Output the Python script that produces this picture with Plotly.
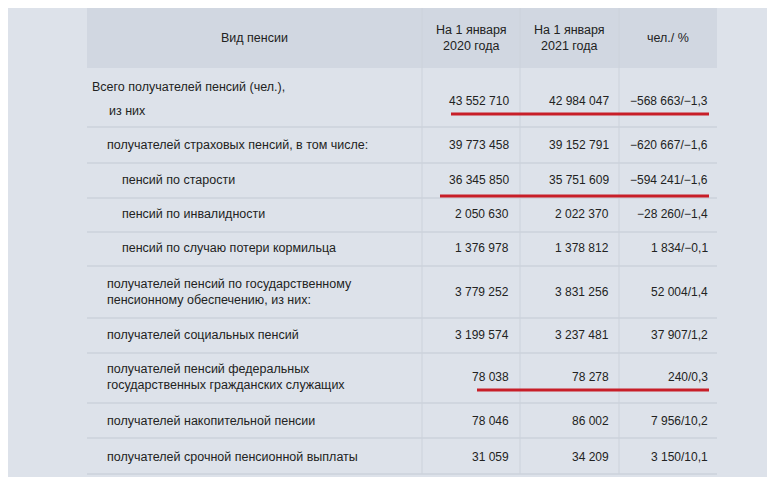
import plotly.graph_objects as go

headers = ["Вид пенсии", "На 1 января<br>2020 года", "На 1 января<br>2021 года", "чел./ %"]
labels = [
    "Всего получателей пенсий (чел.),",
    "получателей страховых пенсий, в том числе:",
    "пенсий по старости",
    "пенсий по инвалидности",
    "пенсий по случаю потери кормильца",
    "получателей пенсий по государственному<br>пенсионному обеспечению, из них:",
    "получателей социальных пенсий",
    "получателей пенсий федеральных<br>государственных гражданских служащих",
    "получателей накопительной пенсии",
    "получателей срочной пенсионной выплаты",
]
indent = [0, 1, 2, 2, 2, 1, 1, 1, 1, 1]
v2020 = ["43 552 710", "39 773 458", "36 345 850", "2 050 630", "1 376 978",
         "3 779 252", "3 199 574", "78 038", "78 046", "31 059"]
v2021 = ["42 984 047", "39 152 791", "35 751 609", "2 022 370", "1 378 812",
         "3 831 256", "3 237 481", "78 278", "86 002", "34 209"]
change = ["−568 663/−1,3", "−620 667/−1,6", "−594 241/−1,6", "−28 260/−1,4", "1 834/−0,1",
          "52 004/1,4", "37 907/1,2", "240/0,3", "7 956/10,2", "3 150/10,1"]
highlight = [0, 2, 7]

# layout geometry (pixels)
row_bounds = [68, 127, 163, 198, 232, 266, 318, 353, 403, 438, 474]
col_bounds = [87, 422, 520, 619, 717]
val_y = [101, 145, 180, 214, 248, 292, 335, 377, 421, 457]
ul_start = {0: 451, 2: 440, 7: 477}
ul_y = {0: 114, 2: 196, 7: 390}

fig = go.Figure()
shapes = []
shapes.append(dict(type="rect", x0=0, x1=771, y0=0, y1=477, fillcolor="#dde2ea", line_width=0, layer="below"))
shapes.append(dict(type="rect", x0=771, x1=775, y0=0, y1=477, fillcolor="#8e9196", line_width=0, layer="below"))
shapes.append(dict(type="rect", x0=col_bounds[0], x1=col_bounds[-1], y0=8, y1=68, fillcolor="#d1d7e1", line_width=0, layer="below"))
for yb in row_bounds[1:]:
    shapes.append(dict(type="line", x0=col_bounds[0], x1=col_bounds[-1], y0=yb, y1=yb, line=dict(color="#c3cad4", width=1.2)))
for xb in col_bounds[1:-1]:
    shapes.append(dict(type="line", x0=xb, x1=xb, y0=8, y1=row_bounds[-1], line=dict(color="#ccd2db", width=1)))
for i in highlight:
    shapes.append(dict(type="line", x0=ul_start[i], x1=709, y0=ul_y[i], y1=ul_y[i], line=dict(color="#c81e28", width=3)))

font = dict(family="Liberation Sans, Arial", size=12.5, color="#222222")
nfont = dict(family="Liberation Sans, Arial", size=12, color="#222222")
ann = []
hx = [(col_bounds[k] + col_bounds[k + 1]) / 2 for k in range(4)]
for k, h in enumerate(headers):
    ann.append(dict(x=hx[k], y=38, text=h, showarrow=False, xanchor="center", yanchor="middle", font=font))
indent_x = {0: 90, 1: 105, 2: 120}
for i, lab in enumerate(labels):
    if i == 0:
        ann.append(dict(x=90, y=87, text=lab, showarrow=False, xanchor="left", yanchor="middle", font=font))
        ann.append(dict(x=107, y=111, text="из них", showarrow=False, xanchor="left", yanchor="middle", font=font))
    else:
        ann.append(dict(x=indent_x[indent[i]], y=val_y[i], text=lab, showarrow=False, xanchor="left",
                        yanchor="middle", align="left", font=font))
    for xr, vals in [(511, v2020), (611, v2021), (710, change)]:
        ann.append(dict(x=xr, y=val_y[i], text=vals[i], showarrow=False, xanchor="right", yanchor="middle", font=nfont))

fig.update_layout(
    width=767, height=469, margin=dict(l=0, r=0, t=0, b=0),
    paper_bgcolor="#dde2ea", plot_bgcolor="#dde2ea",
    xaxis=dict(range=[8, 775], visible=False, fixedrange=True),
    yaxis=dict(range=[477, 8], visible=False, fixedrange=True),
    shapes=shapes, annotations=ann, showlegend=False,
)
fig.write_html("out.html")
